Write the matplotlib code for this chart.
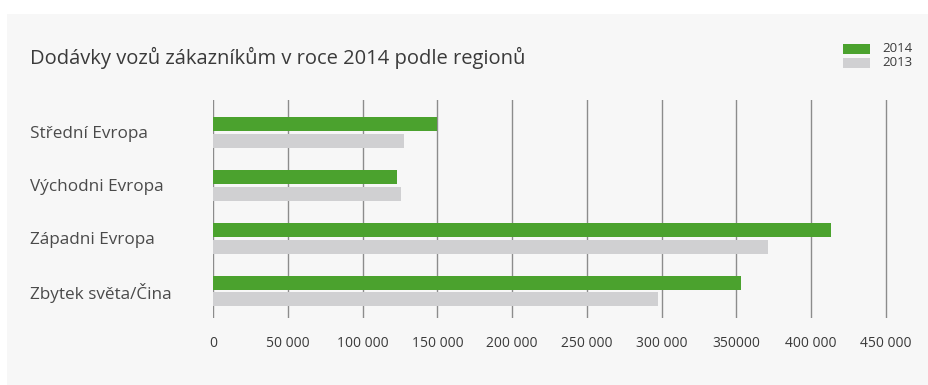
import matplotlib
matplotlib.use("Agg")
import matplotlib.pyplot as plt
from matplotlib.patches import Rectangle
import numpy as np

title = "Dodávky vozů zákazníkům v roce 2014 podle regionů"
categories = ["Střední Evropa", "Východni Evropa", "Západni Evropa", "Zbytek světa/Čina"]
values_2014 = [150000, 123000, 413000, 353000]
values_2013 = [128000, 125500, 371000, 297500]
series_names = ["2014", "2013"]
xticks = [0, 50000, 100000, 150000, 200000, 250000, 300000, 350000, 400000, 450000]
xtick_labels = ["0", "50 000", "100 000", "150 000", "200 000", "250 000",
                "300 000", "350000", "400 000", "450 000"]

GREEN = "#4ba22e"
GRAY = "#d0d0d2"
TEXT = "#3a3a3a"
FONT = ["Open Sans", "DejaVu Sans"]

W, H = 929, 385
fig = plt.figure(figsize=(W / 100, H / 100), dpi=100)
fig.patch.set_facecolor("white")
fig.patches.append(Rectangle((7 / W, 0), 1 - 7 / W, 1 - 14 / H,
                             transform=fig.transFigure, facecolor="#f7f7f7",
                             edgecolor="none", zorder=-5))

ax = fig.add_axes([213 / W, 1 - 318 / H, (888 - 213) / W, (318 - 100) / H])
ax.set_facecolor("none")
ax.set_zorder(2)

y = np.arange(len(categories))
bh = 0.265
off = 0.16
ax.barh(y - off, values_2014, height=bh, color=GREEN, zorder=3, label=series_names[0])
ax.barh(y + off, values_2013, height=bh, color=GRAY, zorder=3, label=series_names[1])

ax.set_xlim(0, 450000 * 675 / 673)
ax.set_ylim(3 + 0.51, -0.613)
ax.set_xticks(xticks)
ax.set_xticklabels(xtick_labels, fontfamily=FONT, fontsize=10, color=TEXT)
ax.tick_params(axis="x", length=0, pad=13)
ax.set_yticks(y)
ax.set_yticklabels(categories, fontfamily=FONT, fontsize=12.3, color="#4a4a4a", ha="left")
ax.tick_params(axis="y", length=0, pad=(213 - 30) * 0.72)
ax.grid(axis="x", color="#8c8c8c", linewidth=1, zorder=1)
for s in ax.spines.values():
    s.set_visible(False)

fig.text(30 / W, 1 - 58 / H, title, fontfamily=FONT, fontsize=14.5, color=TEXT,
         ha="left", va="center")

# legend
fig.patches.append(Rectangle((843 / W, 1 - 54 / H), 27 / W, 10 / H, transform=fig.transFigure,
                             facecolor=GREEN, edgecolor="none"))
fig.patches.append(Rectangle((843 / W, 1 - 68 / H), 27 / W, 10 / H, transform=fig.transFigure,
                             facecolor=GRAY, edgecolor="none"))
fig.text(882 / W, 1 - 49 / H, series_names[0], fontfamily=FONT, fontsize=9.5, color=TEXT, va="center")
fig.text(882 / W, 1 - 63 / H, series_names[1], fontfamily=FONT, fontsize=9.5, color=TEXT, va="center")

fig.savefig("out.png", dpi=100)
